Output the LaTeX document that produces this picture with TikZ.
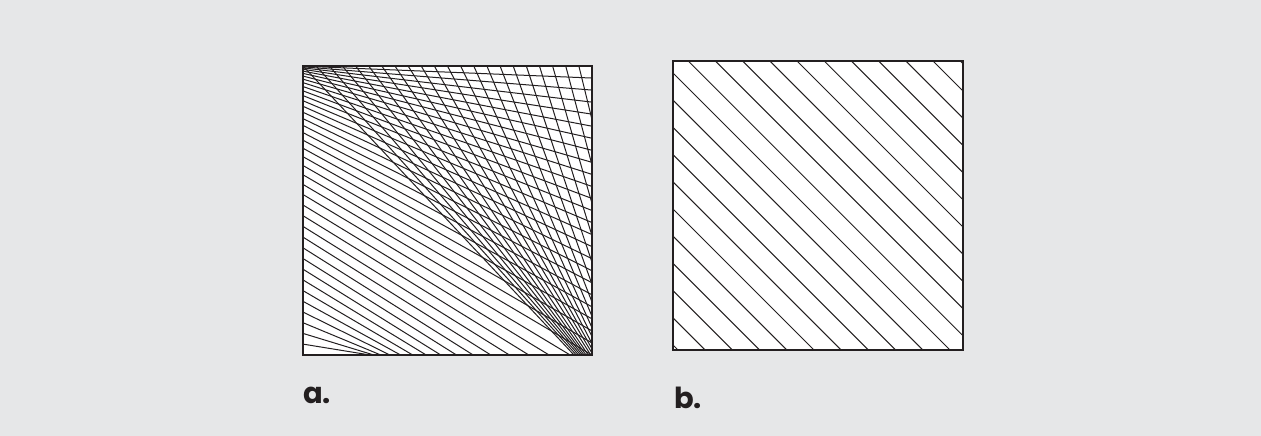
\documentclass[tikz,border=0pt]{standalone}
\usepackage{fontspec}
\setmainfont{Poppins}
\usetikzlibrary{positioning}
\definecolor{paperBG}{HTML}{E6E7E8}
\definecolor{inkLine}{HTML}{231F20}

\begin{document}
\begin{tikzpicture}[x=1pt, y=-1pt,
  frame/.style={draw=inkLine, line width=1.8pt},
  hatch/.style={draw=inkLine, line width=1pt},
  caption/.style={font=\fontsize{29}{29}\selectfont\bfseries, text=inkLine, inner sep=0pt, anchor=base west},
]

% Background
\fill[paperBG] (0,0) rectangle (1261,436);
\useasboundingbox (0,0) rectangle (1261,436);

% Square a: two fans of lines
\begin{scope}[shift={(303,66)}]
  \fill[white] (0,0) rectangle (289,289);
  \begin{scope}
    \clip (0,0) rectangle (289,289);
    % lines leaving the left edge
    \foreach \k in {0,...,39}{
      \pgfmathsetmacro\a{\k<=26 ? 139*(\k/26)^2 : 139+10.7*(\k-26)}
      \pgfmathsetmacro\u{max(0,(\k-24)/15)}
      \pgfmathsetmacro\e{\k<=24 ? 289*\k/24 : 289+222*(1-(1-\u)*sqrt(1-\u))}
      \pgfmathsetmacro\ex{\e<=289 ? 289 : 578-\e}
      \pgfmathsetmacro\ey{\e<=289 ? \e : 289}
      \draw[hatch] (0,\a) -- (\ex,\ey);
    }
    % lines leaving the top edge
    \foreach \j in {0,...,21}{
      \pgfmathsetmacro\w{max(0.0001,\j/22)}
      \pgfmathsetmacro\e{289*(1-\w^4.4)+18*(1-\w)^3}
      \pgfmathsetmacro\ex{\e<=289 ? 289 : 578-\e}
      \pgfmathsetmacro\ey{\e<=289 ? \e : 289}
      \draw[hatch] (289*\j/22,0) -- (\ex,\ey);
    }
  \end{scope}
  \draw[frame] (0,0) rectangle (289,289);
\end{scope}

% Square b: plain diagonal hatching
\begin{scope}[shift={(673,61)}]
  \fill[white] (0,0) rectangle (290,289);
  \begin{scope}
    \clip (0,0) rectangle (290,289);
    \foreach \k in {0,...,21}
      \draw[hatch] (-300,284-27.2*\k-300) -- ++(600,600);
  \end{scope}
  \draw[frame] (0,0) rectangle (290,289);
\end{scope}

% Captions
\node[caption] (labelA) at (303,403) {a.};
\node[caption] (labelB) at (674,408) {b.};

\end{tikzpicture}
\end{document}
